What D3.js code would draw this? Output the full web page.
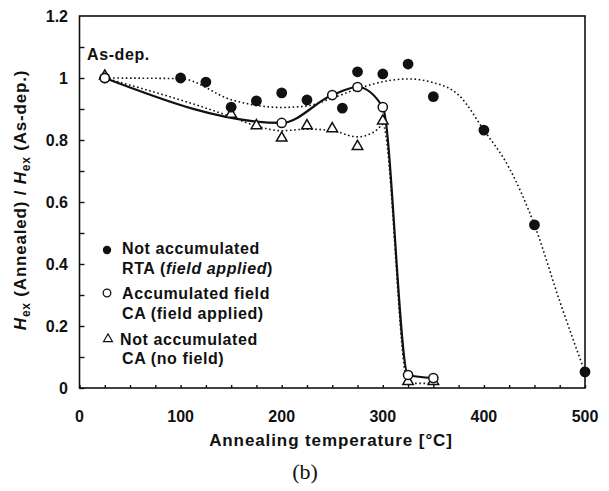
<!DOCTYPE html>
<html>
<head>
<meta charset="utf-8">
<script src="https://cdn.jsdelivr.net/npm/d3@7"></script>
<style>
  body { margin: 0; background: #fff; }
  svg text { font-family: "Liberation Sans", Arial, sans-serif; font-weight: bold; fill: #111; }
</style>
</head>
<body>
<svg width="609" height="491"></svg>
<script>
// measured points (temperature in C, ratio Hex annealed / as-dep)
const rtaTemp  = [25, 100, 125, 150, 175, 200, 225, 260, 275, 300, 325, 350, 400, 450, 500];
const rtaRatio = [1.0, 1.0, 0.987, 0.906, 0.926, 0.952, 0.929, 0.903, 1.02, 1.013, 1.045, 0.94, 0.832, 0.526, 0.052];

const accTemp  = [25, 200, 250, 275, 300, 325, 350];
const accRatio = [1.0, 0.855, 0.945, 0.971, 0.906, 0.042, 0.032];

const caTemp  = [25, 150, 175, 200, 225, 250, 275, 300, 325, 350];
const caRatio = [1.0, 0.877, 0.84, 0.80, 0.84, 0.83, 0.773, 0.855, 0.015, 0.015];

// guide lines drawn by hand in the figure
const rtaFitTemp  = [25, 100, 150, 200, 225, 250, 275, 300, 325, 350, 375, 400, 425, 450, 475, 500];
const rtaFitRatio = [1.0, 0.998, 0.93, 0.905, 0.91, 0.935, 0.965, 0.988, 0.997, 0.985, 0.945, 0.832, 0.71, 0.526, 0.28, 0.05];

const caFitTemp  = [25, 150, 175, 200, 225, 250, 275, 295, 300, 325, 350];
const caFitRatio = [1.0, 0.875, 0.845, 0.83, 0.835, 0.83, 0.81, 0.835, 0.85, 0.015, 0.015];

const xTicks = [0, 100, 200, 300, 400, 500];
const yTicks = [0, 0.2, 0.4, 0.6, 0.8, 1, 1.2];

const svg = d3.select('svg');

const x = d3.scaleLinear().domain([0, 500]).range([79.5, 585]);
const y = d3.scaleLinear().domain([0, 1.2]).range([388, 16]);

// frame
svg.append('rect')
    .attr('x', x(0)).attr('y', y(1.2))
    .attr('width', x(500) - x(0)).attr('height', y(0) - y(1.2))
    .attr('fill', 'none').attr('stroke', '#111').attr('stroke-width', 1.6);

// inward ticks
const xAxis = d3.axisBottom(x).tickValues(d3.range(0, 501, 25)).tickSize(-3).tickFormat('');
svg.append('g').attr('transform', `translate(0,${y(0)})`).call(xAxis)
    .call(g => g.select('.domain').remove())
    .call(g => g.selectAll('line').attr('stroke', '#111').attr('stroke-width', 1.4));

const yAxis = d3.axisLeft(y).tickValues(d3.range(0, 12).map(d => d / 10)).tickSize(-5).tickFormat('');
svg.append('g').attr('transform', `translate(${x(0)},0)`).call(yAxis)
    .call(g => g.select('.domain').remove())
    .call(g => g.selectAll('line').attr('stroke', '#111').attr('stroke-width', 1.4));

// tick labels
svg.append('g').selectAll('text').data(xTicks).enter().append('text')
    .attr('x', d => x(d)).attr('y', 422)
    .attr('text-anchor', 'middle').attr('font-size', 16)
    .text(d => d);

svg.append('g').selectAll('text').data(yTicks).enter().append('text')
    .attr('x', 68).attr('y', d => y(d) + 6)
    .attr('text-anchor', 'end').attr('font-size', 16)
    .text(d => d);

// axis titles
svg.append('text')
    .attr('x', 331).attr('y', 446)
    .attr('text-anchor', 'middle').attr('font-size', 17)
    .attr('letter-spacing', 0.9)
    .text('Annealing temperature [°C]');

const yTitle = svg.append('text')
    .attr('transform', 'translate(26,200) rotate(-90)')
    .attr('text-anchor', 'middle').attr('font-size', 17)
    .attr('letter-spacing', 0.8);
yTitle.append('tspan').attr('font-style', 'italic').text('H');
yTitle.append('tspan').attr('font-size', 12).attr('dy', 4).text('ex');
yTitle.append('tspan').attr('dy', -4).text(' (Annealed) / ');
yTitle.append('tspan').attr('font-style', 'italic').text('H');
yTitle.append('tspan').attr('font-size', 12).attr('dy', 4).text('ex');
yTitle.append('tspan').attr('dy', -4).text(' (As-dep.)');

svg.append('text')
    .attr('x', 87).attr('y', 60).attr('font-size', 16)
    .attr('letter-spacing', 0.6)
    .text('As-dep.');

// lines
const line = d3.line().x(d => x(d[0])).y(d => y(d[1]));

svg.append('path')
    .datum(d3.zip(rtaFitTemp, rtaFitRatio))
    .attr('d', line.curve(d3.curveMonotoneX))
    .attr('fill', 'none').attr('stroke', '#111').attr('stroke-width', 1.6)
    .attr('stroke-dasharray', '1.6,2.6');

svg.append('path')
    .datum(d3.zip(caFitTemp, caFitRatio))
    .attr('d', line.curve(d3.curveMonotoneX))
    .attr('fill', 'none').attr('stroke', '#111').attr('stroke-width', 1.6)
    .attr('stroke-dasharray', '1.6,2.6');

svg.append('path')
    .datum(d3.zip(accTemp, accRatio))
    .attr('d', line.curve(d3.curveMonotoneX))
    .attr('fill', 'none').attr('stroke', '#111').attr('stroke-width', 2.2);

// markers
const tri = d3.symbol().type(d3.symbolTriangle).size(48);

svg.append('g').selectAll('path').data(d3.zip(caTemp, caRatio)).enter().append('path')
    .attr('d', tri)
    .attr('transform', d => `translate(${x(d[0])},${y(d[1]) - 2})`)
    .attr('fill', '#fff').attr('stroke', '#111').attr('stroke-width', 1.5);

svg.append('g').selectAll('circle').data(d3.zip(rtaTemp, rtaRatio)).enter().append('circle')
    .attr('cx', d => x(d[0])).attr('cy', d => y(d[1])).attr('r', 5.4)
    .attr('fill', '#111');

svg.append('g').selectAll('circle').data(d3.zip(accTemp, accRatio)).enter().append('circle')
    .attr('cx', d => x(d[0])).attr('cy', d => y(d[1])).attr('r', 4.6)
    .attr('fill', '#fff').attr('stroke', '#111').attr('stroke-width', 1.5);

// legend
const legend = svg.append('g').attr('font-size', 16).attr('letter-spacing', 0.6);
legend.append('circle').attr('cx', 107).attr('cy', 250).attr('r', 4.2).attr('fill', '#111');
legend.append('text').attr('x', 122).attr('y', 254).text('Not accumulated');
const l2 = legend.append('text').attr('x', 122).attr('y', 274);
l2.append('tspan').text('RTA (');
l2.append('tspan').attr('font-style', 'italic').text('field applied');
l2.append('tspan').text(')');

legend.append('circle').attr('cx', 107).attr('cy', 293).attr('r', 3.8)
    .attr('fill', '#fff').attr('stroke', '#111').attr('stroke-width', 1.3);
legend.append('text').attr('x', 122).attr('y', 299).text('Accumulated field');
legend.append('text').attr('x', 122).attr('y', 319).text('CA (field applied)');

legend.append('path').attr('d', d3.symbol().type(d3.symbolTriangle).size(34))
    .attr('transform', 'translate(108,339)')
    .attr('fill', '#fff').attr('stroke', '#111').attr('stroke-width', 1.2);
legend.append('text').attr('x', 120).attr('y', 345).text('Not accumulated');
legend.append('text').attr('x', 122).attr('y', 364).text('CA (no field)');

// panel label
svg.append('text')
    .attr('x', 305).attr('y', 479)
    .attr('text-anchor', 'middle').attr('font-size', 22)
    .style('font-family', '"Liberation Serif", "Times New Roman", serif')
    .style('font-weight', 'normal')
    .text('(b)');
</script>
</body>
</html>
